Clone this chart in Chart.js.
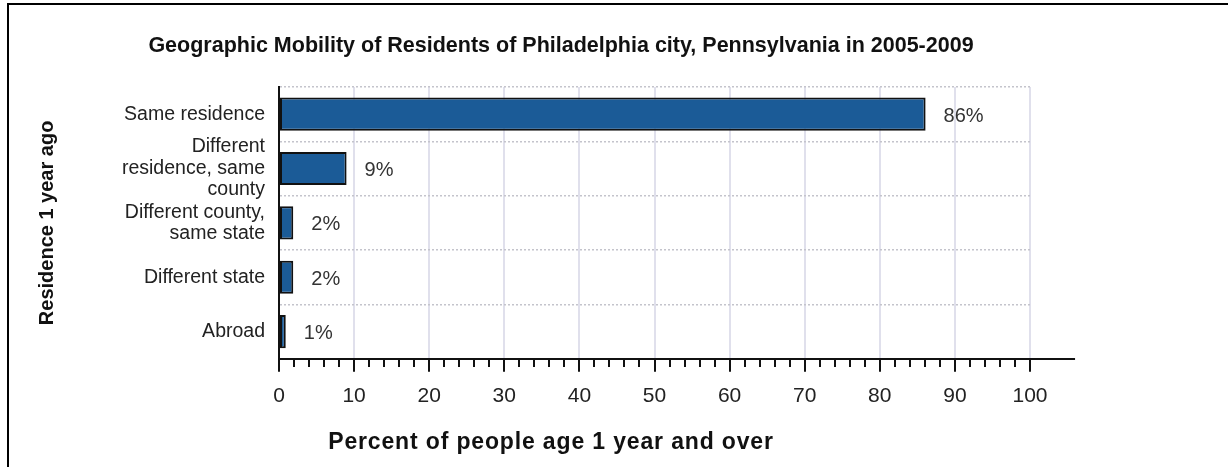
<!DOCTYPE html>
<html>
<head>
<meta charset="utf-8">
<script src="https://cdn.jsdelivr.net/npm/chart.js@4.4.1/dist/chart.umd.min.js"></script>
<style>
  html, body { margin: 0; padding: 0; background: #fff; }
  #wrap { position: relative; width: 1228px; height: 467px; }
  #frame { position: absolute; left: 7px; top: 3px; right: 0; bottom: 0;
           border-top: 2px solid #000; border-left: 2px solid #000; pointer-events: none; }
  canvas { position: absolute; left: 0; top: 0; }
</style>
</head>
<body>
<div id="wrap">
  <canvas id="chart" width="1228" height="467"></canvas>
  <div id="frame"></div>
</div>
<script>
// Geographic mobility, Philadelphia city, 2005-2009 (percent of people age 1+)
const chartTitle = 'Geographic Mobility of Residents of Philadelphia city, Pennsylvania in 2005-2009';
const xTitle = 'Percent of people age 1 year and over';
const yTitle = 'Residence 1 year ago';

const categories = [
  ['Same residence'],
  ['Different', 'residence, same', 'county'],
  ['Different county,', 'same state'],
  ['Different state'],
  ['Abroad'],
];
const percents = [86.1, 9.0, 1.9, 1.9, 0.9];
const valueLabels = ['86%', '9%', '2%', '2%', '1%'];
const xTicks = [0, 10, 20, 30, 40, 50, 60, 70, 80, 90, 100];

const FONT = 'Arial, "Liberation Sans", sans-serif';

// titles sit off-centre in the original, so they're drawn by hand
const titlesPlugin = {
  id: 'titles',
  afterDraw(chart) {
    const ctx = chart.ctx;
    ctx.save();
    ctx.fillStyle = '#111';
    ctx.textAlign = 'center';
    ctx.textBaseline = 'middle';
    ctx.font = 'bold 21.5px ' + FONT;
    ctx.fillText(chartTitle, 561, 46);
    ctx.font = 'bold 23px ' + FONT;
    ctx.letterSpacing = '0.85px';
    ctx.fillText(xTitle, 551, 443);
    ctx.restore();
  }
};

// value labels to the right of each bar
const valueLabelPlugin = {
  id: 'valueLabels',
  afterDatasetsDraw(chart) {
    const ctx = chart.ctx;
    const meta = chart.getDatasetMeta(0);
    ctx.save();
    ctx.fillStyle = '#333';
    ctx.font = '20px ' + FONT;
    ctx.textAlign = 'left';
    ctx.textBaseline = 'middle';
    meta.data.forEach((bar, i) => {
      ctx.fillText(valueLabels[i], bar.x + 18, bar.y + 2);
    });
    ctx.restore();
  }
};

// minor ticks every 2 units + axis line running a bit past 100
const minorTicksPlugin = {
  id: 'minorTicks',
  afterDraw(chart) {
    const x = chart.scales.x;
    const ctx = chart.ctx;
    const y0 = Math.round(chart.chartArea.bottom);
    ctx.save();
    ctx.strokeStyle = '#111';
    ctx.lineWidth = 2;
    ctx.beginPath();
    for (let v = 2; v < 100; v += 2) {
      if (v % 10 === 0) continue;
      const px = Math.round(x.getPixelForValue(v));
      ctx.moveTo(px, y0);
      ctx.lineTo(px, y0 + 8);
    }
    ctx.moveTo(chart.chartArea.right - 2, y0);
    ctx.lineTo(x.getPixelForValue(106), y0);
    ctx.stroke();
    ctx.restore();
  }
};

new Chart(document.getElementById('chart'), {
  type: 'bar',
  data: {
    labels: categories,
    datasets: [{
      data: percents,
      backgroundColor: '#1b5b97',
      borderColor: '#111',
      borderWidth: 2,
      borderSkipped: false,
      barPercentage: 0.61,
      categoryPercentage: 1,
    }]
  },
  options: {
    indexAxis: 'y',
    responsive: false,
    animation: false,
    layout: { padding: { left: 20, right: 198, top: 87, bottom: 46 } },
    plugins: { legend: { display: false }, tooltip: { enabled: false }, title: { display: false } },
    scales: {
      x: {
        type: 'linear', min: 0, max: 100,
        afterBuildTicks: (s) => { s.ticks = xTicks.map(v => ({ value: v })); },
        ticks: { color: '#222', font: { family: FONT, size: 21 }, padding: 12, maxRotation: 0 },
        grid: { color: '#e0e0ec', lineWidth: 2, tickColor: '#111', tickLength: 13, tickWidth: 2 },
        border: { display: true, color: '#111', width: 2 },
      },
      y: {
        type: 'category',
        afterFit: (s) => { s.width = 259; },
        ticks: { color: '#222', font: { family: FONT, size: 19.5, lineHeight: 1.1 }, padding: 14, autoSkip: false },
        grid: { color: '#c4c4cc', lineWidth: 1.5, offset: true, drawTicks: false },
        border: { display: true, color: '#111', width: 2, dash: [2, 2] },
        title: {
          display: true, text: yTitle, color: '#111',
          font: { family: FONT, size: 20, weight: 'bold', lineHeight: 1.2 },
          padding: { top: 15, bottom: 0 },
        },
      }
    }
  },
  plugins: [titlesPlugin, valueLabelPlugin, minorTicksPlugin]
});
</script>
</body>
</html>
